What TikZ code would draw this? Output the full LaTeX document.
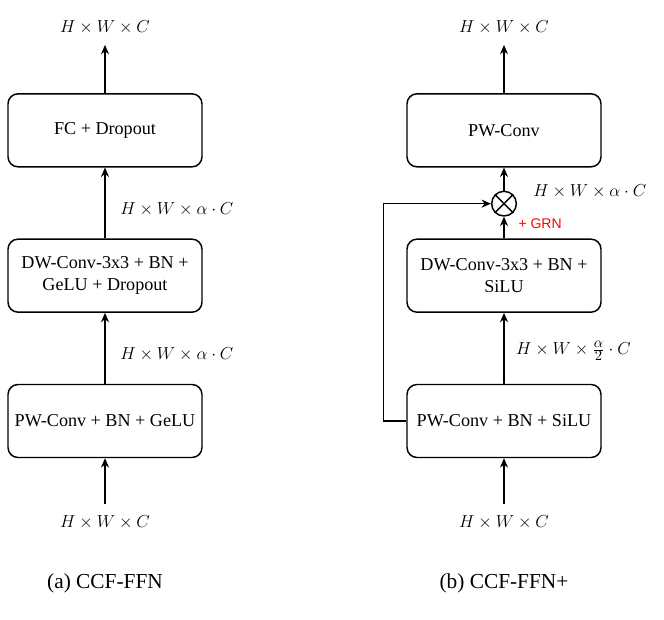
\RequirePackage{fix-cm}
\documentclass[tikz,border=0pt]{standalone}
\usepackage{fontspec}
\setmainfont{Liberation Serif}
\newfontfamily\grnfont{Liberation Sans}
\usetikzlibrary{positioning,arrows.meta}
\newcommand{\polmat}[1]{\mbox{\fontsize{11}{13}\selectfont$#1$}}

\begin{document}
\begin{tikzpicture}[x=0.75pt,y=-0.75pt,node distance=109pt]
	\tikzstyle{blok} = [rectangle, rounded corners=7.5pt, minimum width=145.5pt, minimum height=54.75pt, text centered, align=center, draw=black, line width=1.1pt, font=\fontsize{13.6}{16.5}\selectfont]
	\tikzstyle{nasob} = [circle, draw=black, line width=1.1pt, minimum size=18.5pt, inner sep=0pt]
	\tikzstyle{rozmer} = [inner ysep=8pt, font=\fontsize{13}{15.5}\selectfont]
	\tikzstyle{hrana} = [inner sep=2pt, font=\fontsize{13}{15.5}\selectfont]
	\tikzstyle{popis} = [font=\fontsize{16}{19}\selectfont]
	\tikzstyle{arrow} = [line width=1.1pt,-{Stealth[length=7pt,width=6pt]}]

	\useasboundingbox (0,0) rectangle (664,620);

	\node (pw1) [blok] at (105,421) {PW-Conv + BN + GeLU};
	\node (dw1) [blok, above of=pw1] {DW-Conv-3x3 + BN +\\GeLU + Dropout};
	\node (fc) [blok, above of=dw1] {FC + Dropout};
	\node (in1) [rozmer, below of=pw1, node distance=75.75pt] {$H\times W\times C$};
	\node (out1) [rozmer, above of=fc, node distance=77.25pt] {$H\times W\times C$};
	\node (cap1) [popis, below of=in1, node distance=45.75pt] {(a) CCF-FFN};

	\node (pw2) [blok, right of=pw1, xshift=190.25pt] {PW-Conv + BN + SiLU};
	\node (dw2) [blok, above of=pw2] {DW-Conv-3x3 + BN +\\SiLU};
	\node (mul) [nasob, above of=dw2, node distance=54pt] {};
	\node (pwc) [blok, above of=dw2] {PW-Conv};
	\node (in2) [rozmer, below of=pw2, node distance=75.75pt] {$H\times W\times C$};
	\node (out2) [rozmer, above of=pwc, node distance=77.25pt] {$H\times W\times C$};
	\node (cap2) [popis, below of=in2, node distance=45.75pt] {(b) CCF-FFN+};
	\node (dim2) [hrana, right=10pt of mul, yshift=9pt] {$H\times W\times\alpha\cdot C$};
	\coordinate (ohyb) at ([xshift=-17.25pt]pw2.west);

	\draw [arrow] (in1) -- (pw1);
	\draw [arrow] (pw1) -- (dw1) node[hrana, pos=0.42, anchor=west, xshift=9pt] {$H\times W\times\alpha\cdot C$};
	\draw [arrow] (dw1) -- (fc) node[hrana, pos=0.41, anchor=west, xshift=9pt] {$H\times W\times\alpha\cdot C$};
	\draw [arrow] (fc) -- (out1);

	\draw [arrow] (in2) -- (pw2);
	\draw [arrow] (pw2) -- (dw2) node[hrana, pos=0.46, anchor=west, xshift=6.5pt] {$H\times W\times\frac{\polmat{\alpha}}{\polmat{2}}\cdot C$};
	\draw [arrow] (dw2) -- (mul) node[pos=0.67, anchor=west, xshift=7pt, text=red, font=\grnfont\fontsize{10.5}{12}\selectfont] {+ GRN};
	\draw [arrow] (pw2.west) -- (ohyb) |- (mul);
	\draw [line width=1.1pt] (mul.45) -- (mul.225) (mul.135) -- (mul.315);
	\draw [arrow] (mul) -- (pwc);
	\draw [arrow] (pwc) -- (out2);
\end{tikzpicture}
\end{document}
